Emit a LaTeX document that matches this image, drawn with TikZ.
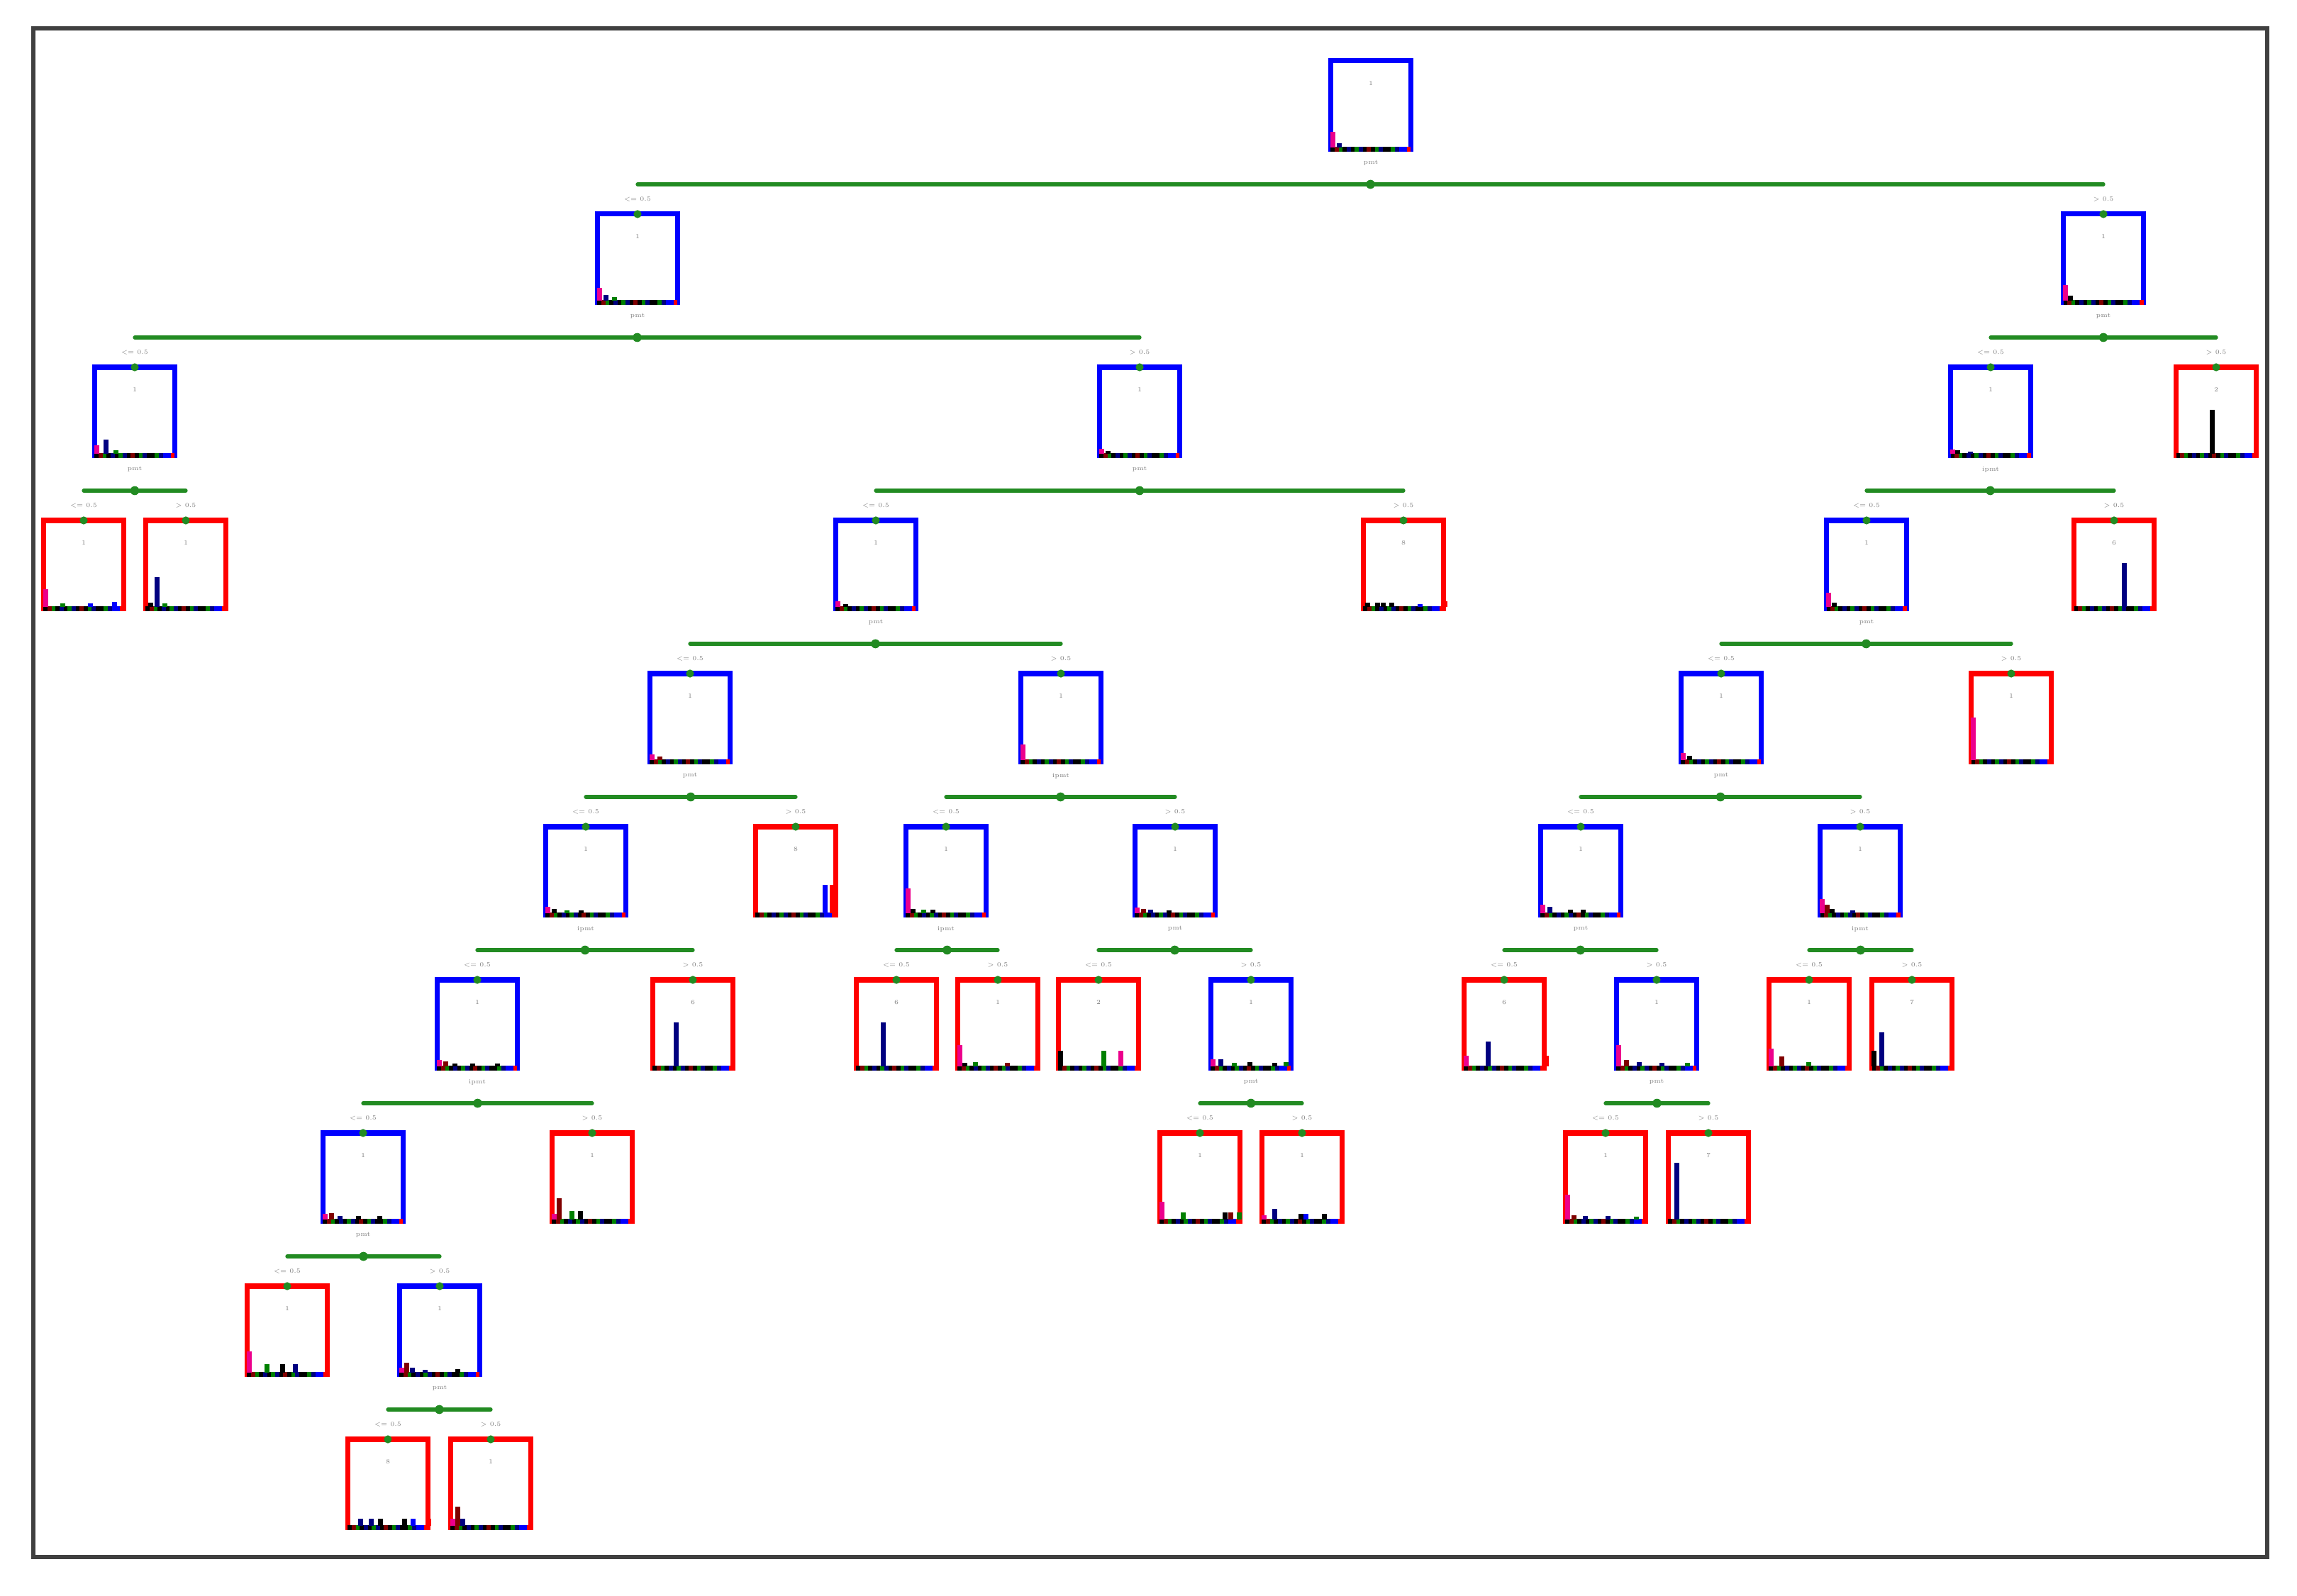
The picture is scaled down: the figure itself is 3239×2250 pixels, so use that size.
\documentclass[tikz,border=0pt]{standalone}
\usetikzlibrary{calc}
\definecolor{branchgreen}{RGB}{34,139,34}
\definecolor{histgreen}{RGB}{0,128,0}
\definecolor{navyc}{RGB}{0,0,128}
\definecolor{darkredc}{RGB}{128,0,0}
\definecolor{framegray}{RGB}{64,64,64}
\tikzset{
  splitbox/.style={draw=blue, line width=2pt, rectangle, minimum width=1.13cm, minimum height=1.24cm, inner sep=0pt, outer sep=0pt, fill=white},
  leafbox/.style={splitbox, draw=red},
  branch/.style={draw=branchgreen, line width=1.5pt, line cap=round},
  histbar/.style={line width=1.8pt},
  tag/.style={font=\fontsize{2.5}{3}\selectfont, text=gray, inner sep=0pt}
}
% colour strip along the bottom of a box
\newcommand{\strip}[1]{\foreach \c [count=\i from 0] in {black,darkredc,histgreen,black,navyc,black,histgreen,navyc,black,darkredc,black,histgreen,navyc,black,black,histgreen,navyc,blue,blue,red}
  \draw[\c, line width=2pt] ($(#1.south west)+(\i*5.65,0)$) -- ++(5.65,0);}
% bars of a box: x offset / height (px) / colour
\newcommand{\hist}[2]{\strip{#1}\foreach \p/\h/\c in {#2}
  \draw[histbar,\c] ($(#1.south west)+(\p,-2)$) -- ++(0,-\h);}
% class label inside a box
\newcommand{\cls}[2]{\node[tag] (#1-cls) at ($(#1.north)+(0,32)$) {#2};}
% split: parent, left, right, variable, left text, right text
\newcommand{\branch}[6]{%
  \node[tag] (#1-var) at ($(#1.south)+(0,20)$) {#4};
  \draw[branch] ($(#2.north)+(0,-42)$) -- ($(#3.north)+(0,-42)$);
  \fill[branchgreen] ($(#2.north)!0.5!(#3.north)+(0,-42)$) circle (1.8pt);
  \fill[branchgreen] (#2.north) circle (1.6pt);
  \fill[branchgreen] (#3.north) circle (1.6pt);
  \node[tag] (#2-cond) at ($(#2.north)+(0,-21)$) {#5};
  \node[tag] (#3-cond) at ($(#3.north)+(0,-21)$) {#6};}
\begin{document}
\begin{tikzpicture}[x=0.01cm, y=-0.01cm] % 1 unit = 1 px, y down
\useasboundingbox (0,0) rectangle (3239,2250);
\draw[framegray, line width=1.5pt] (47,40) rectangle (3197,2196); % frame
% level 0 - 1
\node[splitbox] (root) at (1933,148) {};
\node[splitbox] (A) at (899,364) {};
\node[splitbox] (B) at (2966,364) {};
% level 2
\node[splitbox] (C) at (190,580) {};
\node[splitbox] (D) at (1607,580) {};
\node[splitbox] (E) at (2807,580) {};
\node[leafbox] (F) at (3125,580) {};
% level 3
\node[leafbox] (G) at (118,796) {};
\node[leafbox] (H) at (262,796) {};
\node[splitbox] (I) at (1235,796) {};
\node[leafbox] (J) at (1979,796) {};
\node[splitbox] (K) at (2632,796) {};
\node[leafbox] (L) at (2981,796) {};
% level 4
\node[splitbox] (M) at (973,1012) {};
\node[splitbox] (N) at (1496,1012) {};
\node[splitbox] (O) at (2427,1012) {};
\node[leafbox] (P) at (2836,1012) {};
% level 5
\node[splitbox] (Q) at (826,1228) {};
\node[leafbox] (R) at (1122,1228) {};
\node[splitbox] (S) at (1334,1228) {};
\node[splitbox] (T) at (1657,1228) {};
\node[splitbox] (U) at (2229,1228) {};
\node[splitbox] (V) at (2623,1228) {};
% level 6
\node[splitbox] (W) at (673,1444) {};
\node[leafbox] (X) at (977,1444) {};
\node[leafbox] (Y) at (1264,1444) {};
\node[leafbox] (Z) at (1407,1444) {};
\node[leafbox] (AA) at (1549,1444) {};
\node[splitbox] (AB) at (1764,1444) {};
\node[leafbox] (AC) at (2121,1444) {};
\node[splitbox] (AD) at (2336,1444) {};
\node[leafbox] (AE) at (2551,1444) {};
\node[leafbox] (AF) at (2696,1444) {};
% level 7
\node[splitbox] (AG) at (512,1660) {};
\node[leafbox] (AH) at (835,1660) {};
\node[leafbox] (AI) at (1692,1660) {};
\node[leafbox] (AJ) at (1836,1660) {};
\node[leafbox] (AK) at (2264,1660) {};
\node[leafbox] (AL) at (2409,1660) {};
% level 8 - 9
\node[leafbox] (AM) at (405,1876) {};
\node[splitbox] (AN) at (620,1876) {};
\node[leafbox] (AO) at (547,2092) {};
\node[leafbox] (AP) at (692,2092) {};
% histograms
\hist{root}{3/22/magenta, 12/6/navyc}
\hist{A}{3/18/magenta, 12/8/navyc, 24/5/histgreen}
\hist{B}{3/22/magenta, 10/7/black}
\hist{C}{3/12/magenta, 16/20/navyc, 30/5/histgreen}
\hist{D}{3/7/magenta, 12/4/black}
\hist{E}{3/6/magenta, 10/5/black, 28/3/navyc}
\hist{F}{51/62/black}
\hist{G}{3/25/magenta, 27/5/histgreen, 66/5/blue, 100/7/blue}
\hist{H}{7/6/black, 16/42/navyc, 27/5/histgreen}
\hist{I}{3/8/magenta, 14/4/black}
\hist{J}{6/6/black, 20/6/black, 28/6/black, 40/6/black, 80/4/blue, 115/8/red}
\hist{K}{3/20/magenta, 11/6/black}
\hist{L}{71/62/navyc}
\hist{M}{3/8/magenta, 14/5/darkredc}
\hist{N}{3/22/magenta}
\hist{O}{3/10/magenta, 12/6/black}
\hist{P}{3/60/magenta}
\hist{Q}{3/9/magenta, 12/6/black, 30/4/histgreen, 50/4/black}
\hist{R}{98/40/blue, 108/40/red}
\hist{S}{3/35/magenta, 10/6/black, 25/5/histgreen, 38/5/black}
\hist{T}{3/8/magenta, 12/6/darkredc, 22/5/navyc, 48/4/black}
\hist{U}{3/12/magenta, 13/9/navyc, 42/5/black, 60/5/black}
\hist{V}{3/20/magenta, 10/12/darkredc, 17/6/black, 46/4/navyc}
\hist{W}{3/9/magenta, 12/7/darkredc, 25/4/black, 50/4/black, 85/4/black}
\hist{X}{33/62/navyc}
\hist{Y}{38/62/navyc}
\hist{Z}{3/30/magenta, 10/5/black, 25/6/histgreen, 70/5/darkredc}
\hist{AA}{3/22/black, 64/22/histgreen, 88/22/magenta}
\hist{AB}{3/10/magenta, 14/10/navyc, 33/5/histgreen, 55/6/black, 90/5/black, 106/6/histgreen}
\hist{AC}{3/15/magenta, 34/35/navyc, 116/15/red}
\hist{AD}{3/30/magenta, 14/9/darkredc, 32/6/navyc, 64/5/navyc, 100/5/histgreen}
\hist{AE}{3/25/magenta, 18/14/darkredc, 56/6/histgreen}
\hist{AF}{3/22/black, 14/48/navyc}
\hist{AG}{3/8/magenta, 12/9/darkredc, 24/5/navyc, 50/5/black, 80/5/black}
\hist{AH}{3/8/magenta, 10/30/darkredc, 28/12/histgreen, 40/12/black}
\hist{AI}{3/25/magenta, 33/10/histgreen, 92/10/black, 100/10/darkredc, 112/10/histgreen}
\hist{AJ}{3/6/magenta, 18/15/navyc, 55/8/black, 62/8/blue, 88/8/black}
\hist{AK}{3/35/magenta, 12/6/darkredc, 28/5/navyc, 60/5/navyc, 100/4/histgreen}
\hist{AL}{12/80/navyc}
\hist{AM}{3/30/magenta, 28/12/histgreen, 50/12/black, 68/12/navyc}
\hist{AN}{3/7/magenta, 10/14/darkredc, 18/7/navyc, 36/4/navyc, 82/5/black}
\hist{AO}{18/10/navyc, 33/10/navyc, 46/10/black, 80/10/black, 92/10/blue, 114/10/red}
\hist{AP}{3/10/magenta, 10/27/darkredc, 17/10/navyc}
% class labels
\foreach \n/\d in {root/1, A/1, B/1, C/1, D/1, E/1, F/2, G/1, H/1, I/1, J/8, K/1, L/6, M/1, N/1, O/1, P/1,
  Q/1, R/8, S/1, T/1, U/1, V/1, W/1, X/6, Y/6, Z/1, AA/2, AB/1, AC/6, AD/1, AE/1, AF/7,
  AG/1, AH/1, AI/1, AJ/1, AK/1, AL/7, AM/1, AN/1, AO/8, AP/1}
  {\cls{\n}{\d}}
% splits
\branch{root}{A}{B}{pmt}{<= 0.5}{> 0.5}
\branch{A}{C}{D}{pmt}{<= 0.5}{> 0.5}
\branch{B}{E}{F}{pmt}{<= 0.5}{> 0.5}
\branch{C}{G}{H}{pmt}{<= 0.5}{> 0.5}
\branch{D}{I}{J}{pmt}{<= 0.5}{> 0.5}
\branch{E}{K}{L}{ipmt}{<= 0.5}{> 0.5}
\branch{I}{M}{N}{pmt}{<= 0.5}{> 0.5}
\branch{K}{O}{P}{pmt}{<= 0.5}{> 0.5}
\branch{M}{Q}{R}{pmt}{<= 0.5}{> 0.5}
\branch{N}{S}{T}{ipmt}{<= 0.5}{> 0.5}
\branch{O}{U}{V}{pmt}{<= 0.5}{> 0.5}
\branch{Q}{W}{X}{ipmt}{<= 0.5}{> 0.5}
\branch{S}{Y}{Z}{ipmt}{<= 0.5}{> 0.5}
\branch{T}{AA}{AB}{pmt}{<= 0.5}{> 0.5}
\branch{U}{AC}{AD}{pmt}{<= 0.5}{> 0.5}
\branch{V}{AE}{AF}{ipmt}{<= 0.5}{> 0.5}
\branch{W}{AG}{AH}{ipmt}{<= 0.5}{> 0.5}
\branch{AB}{AI}{AJ}{pmt}{<= 0.5}{> 0.5}
\branch{AD}{AK}{AL}{pmt}{<= 0.5}{> 0.5}
\branch{AG}{AM}{AN}{pmt}{<= 0.5}{> 0.5}
\branch{AN}{AO}{AP}{pmt}{<= 0.5}{> 0.5}
\end{tikzpicture}
\end{document}
